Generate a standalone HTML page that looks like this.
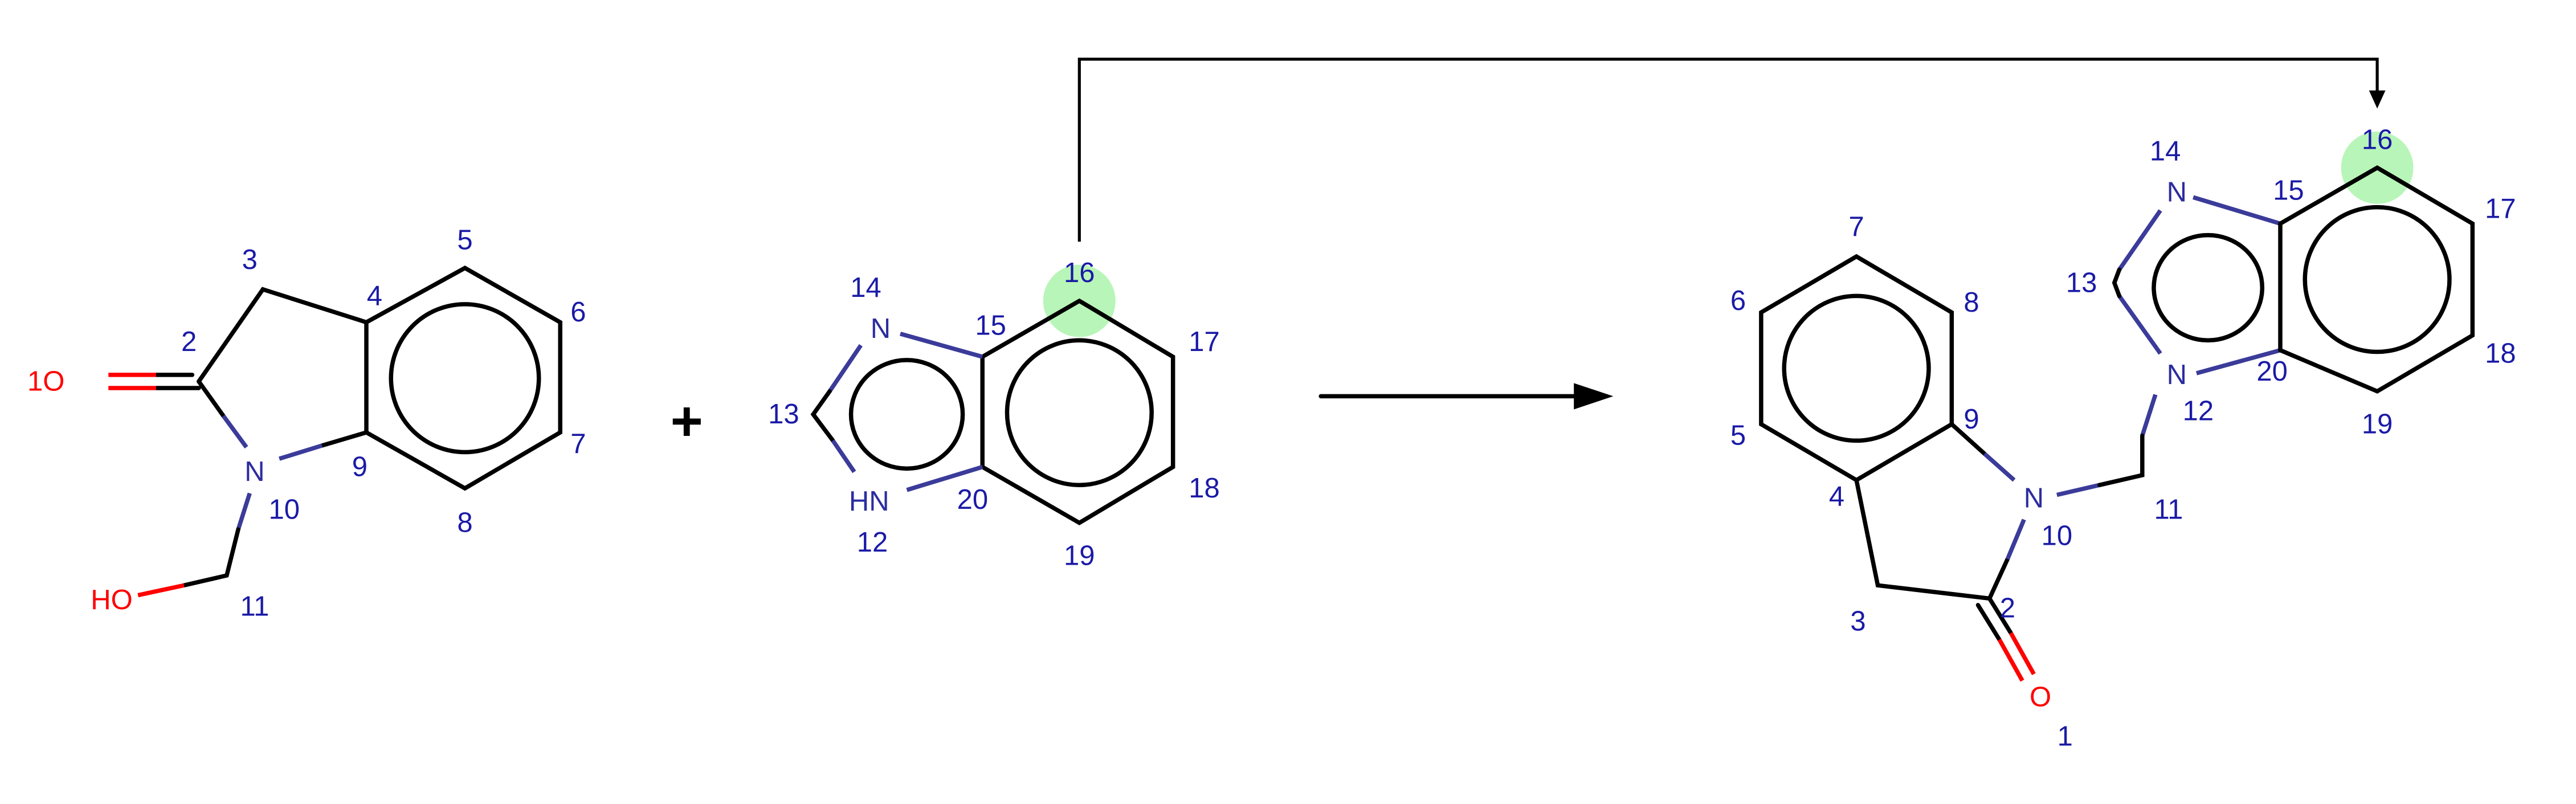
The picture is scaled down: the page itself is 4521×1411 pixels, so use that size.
<!DOCTYPE html>
<html><head><meta charset="utf-8"><style>
html,body{margin:0;padding:0;background:#fff}
svg{display:block}
text{font-family:"Liberation Sans",sans-serif;font-size:17px;text-anchor:middle;dominant-baseline:central}
.l{fill:#1a1aa6}.n{fill:#2c2ca0}.o{fill:#ff0000}
.b{stroke:#000;stroke-width:2.6;fill:none;stroke-linecap:round}
.bb{stroke:#3b3b9a;stroke-width:2.6;fill:none}
.r{stroke:#ff0000;stroke-width:2.6;fill:none}
</style></head><body>
<svg width="4521" height="1411" viewBox="0 0 1568 489" preserveAspectRatio="none">
<g>
<path class="b" d="M121,232 L160,176 L223,196 M223,196 L283,163 L341,196 L341,263 L283,297 L223,263 L223,196"/>
<circle class="b" cx="283" cy="230" r="45"/>
<path class="b" d="M121,232 L136,253 M223,263 L196,271"/>
<path class="bb" d="M136,253 L150,272 M196,271 L170,279 M152,300 L145,322"/>
<path class="b" d="M145,322 L138,350 L112,356"/>
<path class="r" d="M112,356 L84,362"/>
<path class="b" d="M117,228 L95,228 M121,236 L95,236"/>
<path class="r" d="M95,228 L66,228 M95,236 L66,236"/>
<text class="o" x="28" y="232">1O</text>
<text class="n" x="155" y="287">N</text>
<text class="o" x="68" y="365">HO</text>
<text class="l" x="152" y="158">3</text><text class="l" x="115" y="208">2</text>
<text class="l" x="228" y="180">4</text><text class="l" x="283" y="146">5</text>
<text class="l" x="352" y="190">6</text><text class="l" x="352" y="270">7</text>
<text class="l" x="283" y="318">8</text><text class="l" x="219" y="284">9</text>
<text class="l" x="173" y="310">10</text><text class="l" x="155" y="369">11</text>
</g>
<text x="418" y="256" style="font-size:34px;font-weight:bold">+</text>
<g>
<circle cx="657" cy="183" r="22" fill="#b8f5b8"/>
<path class="b" d="M657,183 L714,217 L714,284 L657,318 L598,284 L598,217 Z"/>
<circle class="b" cx="657" cy="251" r="44"/>
<ellipse class="b" cx="552" cy="252" rx="34" ry="33"/>
<path class="bb" d="M598,217 L548,203 M524,210 L505,238 M598,284 L552,298"/>
<path class="b" d="M505,238 L495,252 L507,268"/>
<path class="bb" d="M507,268 L520,287"/>
<text class="n" x="536" y="200">N</text><text class="n" x="529" y="305">HN</text>
<text class="l" x="527" y="175">14</text><text class="l" x="603" y="198">15</text>
<text class="l" x="657" y="166">16</text><text class="l" x="733" y="208">17</text>
<text class="l" x="733" y="297">18</text><text class="l" x="657" y="338">19</text>
<text class="l" x="477" y="252">13</text><text class="l" x="531" y="330">12</text>
<text class="l" x="592" y="304">20</text>
</g>
<g>
<path stroke="#000" stroke-width="1.8" fill="none" d="M657,147 L657,36 L1447,36 L1447,58"/>
<path d="M1442,55 L1452,55 L1447,66 Z" fill="#000"/>
</g>
<g>
<path class="b" d="M804,241 L960,241"/>
<path d="M958,233 L982,241 L958,249 Z" fill="#000"/>
</g>
<g>
<circle cx="1447" cy="102" r="22" fill="#b8f5b8"/>
<path class="b" d="M1130,156 L1188,190 L1188,258 L1130,292 L1072,258 L1072,190 Z"/>
<circle class="b" cx="1130" cy="224" r="44"/>
<path class="b" d="M1130,292 L1143,356 L1211,364 M1188,258 L1208,276 M1211,364 L1222,340"/>
<path class="bb" d="M1208,276 L1226,292 M1222,340 L1232,316 M1252,301 L1278,295 M1312,240 L1304,265 M1315,215 L1290,180 M1290,164 L1315,128 M1335,120 L1388,136 M1388,213 L1337,227"/>
<path class="b" d="M1278,295 L1304,289 L1304,265 M1290,180 L1287,172 L1290,164"/>
<path class="b" d="M1447,102 L1505,136 L1505,204 L1447,238 L1388,213 L1388,136 Z"/>
<circle class="b" cx="1447" cy="170" r="44"/>
<ellipse class="b" cx="1344" cy="175" rx="33" ry="32"/>
<path class="b" d="M1211,364 L1224,385 M1204,368 L1217,389"/>
<path class="r" d="M1224,385 L1238,410 M1217,389 L1231,414"/>
<text class="n" x="1238" y="303">N</text><text class="n" x="1325" y="228">N</text>
<text class="n" x="1325" y="117">N</text><text class="o" x="1242" y="424">O</text>
<text class="l" x="1130" y="138">7</text><text class="l" x="1058" y="183">6</text>
<text class="l" x="1200" y="184">8</text><text class="l" x="1058" y="265">5</text>
<text class="l" x="1200" y="255">9</text><text class="l" x="1118" y="302">4</text>
<text class="l" x="1131" y="378">3</text><text class="l" x="1222" y="370">2</text>
<text class="l" x="1257" y="448">1</text><text class="l" x="1252" y="326">10</text>
<text class="l" x="1320" y="310">11</text><text class="l" x="1338" y="250">12</text>
<text class="l" x="1383" y="226">20</text><text class="l" x="1447" y="258">19</text>
<text class="l" x="1522" y="215">18</text><text class="l" x="1522" y="127">17</text>
<text class="l" x="1393" y="116">15</text><text class="l" x="1318" y="92">14</text>
<text class="l" x="1267" y="172">13</text><text class="l" x="1447" y="85">16</text>
</g>
</svg>
</body></html>
